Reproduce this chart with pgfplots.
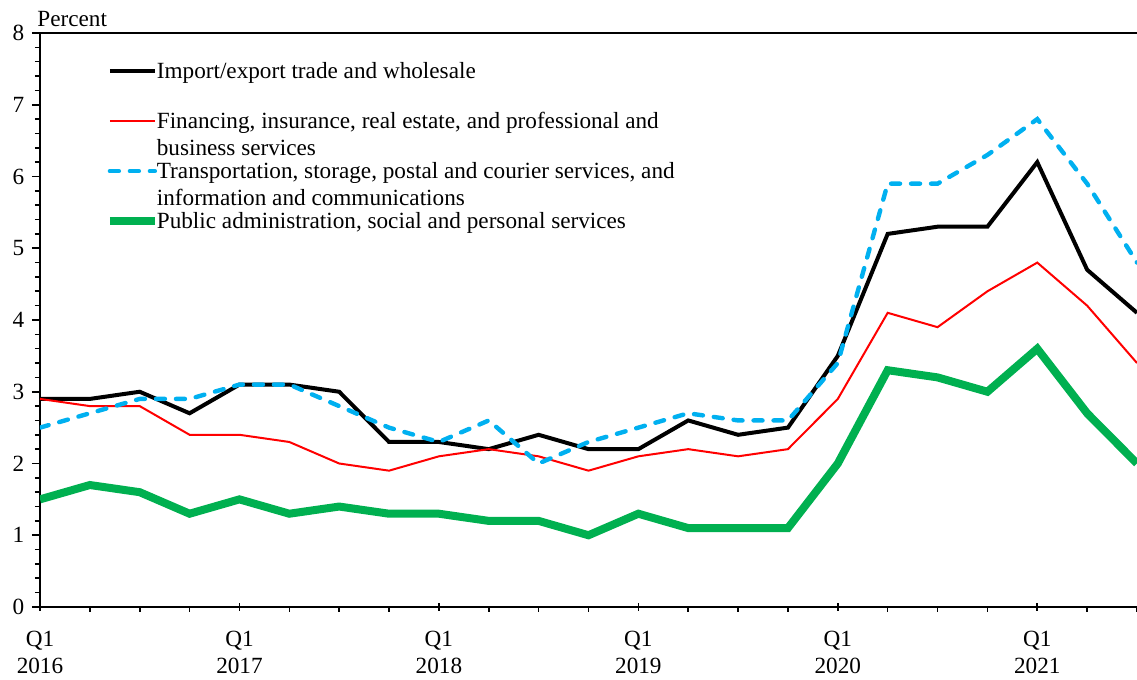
\documentclass[border=0pt,11pt]{standalone}
\usepackage{pgfplots}
\pgfplotsset{compat=1.18}
\usepackage{fontspec}
\setmainfont{Liberation Serif}

\definecolor{tradeblack}{RGB}{0,0,0}
\definecolor{finred}{RGB}{255,0,0}
\definecolor{transblue}{RGB}{0,176,240}
\definecolor{pubgreen}{RGB}{0,176,80}

% Quarterly series, 2016Q1 (x=0) to 2021Q3 (x=22), in percent
\pgfplotstableread{
x trade fin trans pub
0  2.9 2.9 2.5 1.5
1  2.9 2.8 2.7 1.7
2  3.0 2.8 2.9 1.6
3  2.7 2.4 2.9 1.3
4  3.1 2.4 3.1 1.5
5  3.1 2.3 3.1 1.3
6  3.0 2.0 2.8 1.4
7  2.3 1.9 2.5 1.3
8  2.3 2.1 2.3 1.3
9  2.2 2.2 2.6 1.2
10 2.4 2.1 2.0 1.2
11 2.2 1.9 2.3 1.0
12 2.2 2.1 2.5 1.3
13 2.6 2.2 2.7 1.1
14 2.4 2.1 2.6 1.1
15 2.5 2.2 2.6 1.1
16 3.5 2.9 3.4 2.0
17 5.2 4.1 5.9 3.3
18 5.3 3.9 5.9 3.2
19 5.3 4.4 6.3 3.0
20 6.2 4.8 6.8 3.6
21 4.7 4.2 5.9 2.7
22 4.1 3.4 4.8 2.0
}\datatable

\newcommand\chartfont{\fontsize{11.6}{13.6}\selectfont}
% legend text: bottom-aligned block; two-line entries lift their sample line to the first line
\newcommand\entry[1]{\begin{tabular}[b]{@{}l@{}}#1\end{tabular}}
\pgfplotsset{
  oneline/.style={legend image code/.code={\draw[##1] (0pt,3.5pt) -- (22.5pt,3.5pt);}},
  twoline/.style={legend image code/.code={\draw[##1] (0pt,17.1pt) -- (22.5pt,17.1pt);}},
}

\begin{document}
\begin{tikzpicture}
\begin{axis}[
  name=ax,
  scale only axis,
  width=548.5pt, height=287pt,
  xmin=0, xmax=22, ymin=0, ymax=8,
  axis lines=left,
  axis line style={-, line width=1pt, black},
  xtick={0,4,8,12,16,20},
  xticklabels={{Q1\\2016},{Q1\\2017},{Q1\\2018},{Q1\\2019},{Q1\\2020},{Q1\\2021}},
  x tick label style={align=center, yshift=-4pt},
  minor xtick={1,2,3,5,6,7,9,10,11,13,14,15,17,18,19,21,22},
  ytick={0,1,...,8},
  minor y tick num=4,
  tick align=outside,
  major tick length=4pt,
  minor tick length=2.5pt,
  every tick/.style={black, line width=0.8pt},
  major x tick style={yshift=2pt},
  /pgf/number format/assume math mode=true,
  tick label style={font=\chartfont},
  legend style={
    at={(rel axis cs:0.0597,0.962)}, anchor=north west,
    draw=none, fill=none, inner sep=0pt,
    font=\chartfont,
    cells={anchor=base west},
    row sep=-3.8pt,
    column sep=-3pt,
  },
]
\addplot[tradeblack, line width=2pt, twoline] table[x=x, y=trade] {\datatable};
\addlegendentry{\entry{Import/export trade and wholesale\\ {}}}
\addplot[finred, line width=1pt, twoline] table[x=x, y=fin] {\datatable};
\addlegendentry{\entry{Financing, insurance, real estate, and professional and\\business services}}
\addplot[transblue, line width=2.2pt, line cap=round, dash pattern=on 4.5pt off 5.5pt, twoline] table[x=x, y=trans] {\datatable};
\addlegendentry{\entry{Transportation, storage, postal and courier services, and\\information and communications}}
\addplot[pubgreen, line width=4pt, oneline] table[x=x, y=pub] {\datatable};
\addlegendentry{\entry{Public administration, social and personal services}}

\draw[black, line width=1pt] (rel axis cs:0,1) -- (rel axis cs:1,1);
\draw[black!35, line width=0.5pt] (rel axis cs:1,0) -- (rel axis cs:1,1);
\end{axis}
\node[anchor=base west, inner sep=0pt, font=\chartfont]
  at ([xshift=-1.5pt, yshift=3pt]ax.north west) {Percent};
\pgfresetboundingbox
\path[use as bounding box] ([xshift=-20pt, yshift=-36.5pt]ax.south west) rectangle ([yshift=16.5pt]ax.north east);
\end{tikzpicture}
\end{document}
